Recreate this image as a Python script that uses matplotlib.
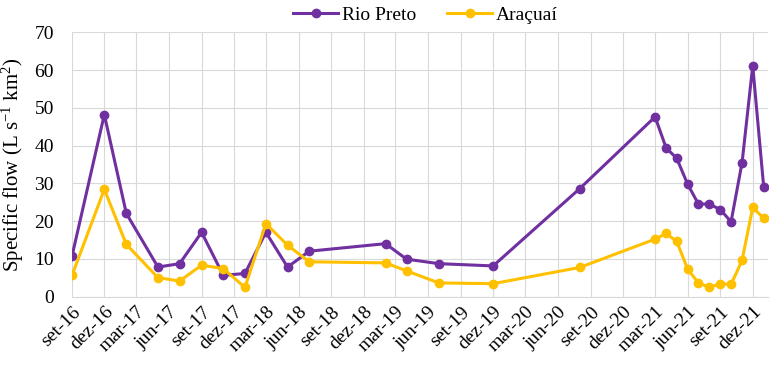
import datetime as dt
import matplotlib
matplotlib.use("Agg")
import matplotlib.pyplot as plt

# sampling months (first of month)
months = ["2016-09", "2016-12", "2017-02", "2017-05", "2017-07", "2017-09",
          "2017-11", "2018-01", "2018-03", "2018-05", "2018-07", "2019-02",
          "2019-04", "2019-07", "2019-12", "2020-08", "2021-03", "2021-04",
          "2021-05", "2021-06", "2021-07", "2021-08", "2021-09", "2021-10",
          "2021-11", "2021-12", "2022-01"]

rio_preto = [10.7, 48.2, 22.0, 7.8, 8.7, 17.0, 5.6, 6.1, 17.0, 7.8, 12.0, 14.0,
             9.9, 8.7, 8.1, 28.6, 47.6, 39.4, 36.6, 29.7, 24.5, 24.5, 23.0, 19.8,
             35.5, 61.1, 28.9]

aracuai = [5.6, 28.4, 13.8, 5.0, 4.1, 8.3, 7.4, 2.4, 19.3, 13.6, 9.2, 8.9,
           6.8, 3.6, 3.4, 7.7, 15.2, 16.7, 14.6, 7.2, 3.6, 2.4, 3.4, 3.2,
           9.6, 23.6, 20.7]

tick_labels = ["set-16", "dez-16", "mar-17", "jun-17", "set-17", "dez-17",
               "mar-18", "jun-18", "set-18", "dez-18", "mar-19", "jun-19",
               "set-19", "dez-19", "mar-20", "jun-20", "set-20", "dez-20",
               "mar-21", "jun-21", "set-21", "dez-21"]

dates = [dt.datetime.strptime(m, "%Y-%m") for m in months]
tick_dates = [dt.datetime(2016 + (9 + 3 * i - 1) // 12, (9 + 3 * i - 1) % 12 + 1, 1)
              for i in range(len(tick_labels))]

plt.rcParams['font.family'] = ['Liberation Serif', 'DejaVu Serif']
plt.rcParams['mathtext.fontset'] = 'custom'
plt.rcParams['mathtext.rm'] = 'Liberation Serif'
plt.rcParams['mathtext.it'] = 'Liberation Serif:italic'

fig = plt.figure(figsize=(7.73, 3.69), dpi=100)
ax = fig.add_axes([72 / 773, 1 - 296.5 / 369, (768 - 72) / 773, (296.5 - 32.3) / 369])

ax.plot(dates, rio_preto, color="#7030A0", lw=2.2, marker="o", ms=6, label="Rio Preto", zorder=3)
ax.plot(dates, aracuai, color="#FFC000", lw=2.2, marker="o", ms=6, label="Araçuaí", zorder=3)

ax.set_xlim(dt.datetime(2016, 9, 1), dt.datetime(2022, 1, 13))
ax.set_ylim(0, 70)
ax.set_yticks(range(0, 71, 10))
ax.set_xticks(tick_dates)
ax.set_xticklabels(tick_labels, rotation=45, ha="right", rotation_mode="anchor", fontsize=14)
ax.tick_params(axis="y", labelsize=14, length=0, pad=13)
ax.tick_params(axis="x", length=0, pad=5)

ax.grid(True, color="#d9d9d9", lw=0.8)
ax.set_axisbelow(True)
for s in ["top", "right", "left"]:
    ax.spines[s].set_visible(False)
ax.spines["bottom"].set_color("#d9d9d9")

ax.set_ylabel(r"Specific flow (L s$^{\mathrm{-1}}$ km$^{\mathrm{2}}$)", fontsize=15, labelpad=6)

ax.legend(loc="center", bbox_to_anchor=(0.508, 1.065), ncol=2, frameon=False,
          fontsize=14, handlelength=2.3, columnspacing=1.6, borderpad=0, handletextpad=0.2)

fig.savefig("out.png", dpi=100)
